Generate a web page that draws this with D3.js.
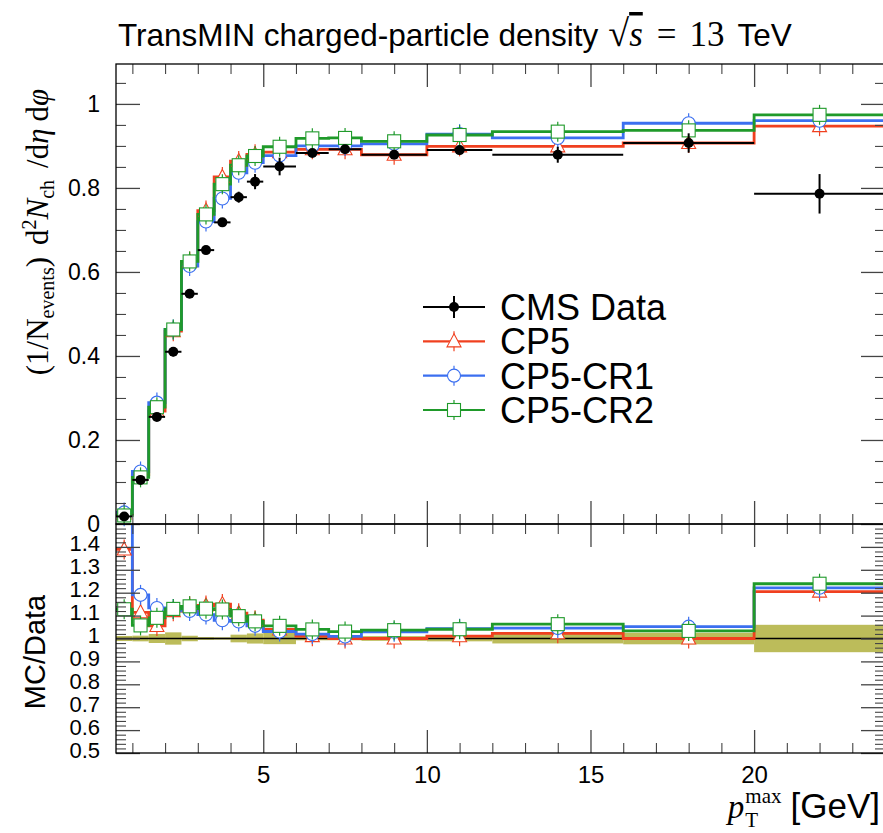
<!DOCTYPE html>
<html>
<head>
<meta charset="utf-8">
<script src="https://cdn.jsdelivr.net/npm/d3@7"></script>
<style>
  body { margin: 0; background: #fff; }
  svg { display: block; }
  .tick text { font-family: "Liberation Sans", Arial, sans-serif; fill: #000; }
</style>
</head>
<body>
<svg id="chart" width="883" height="833"></svg>
<script>
// bins (GeV) and values
const binEdges = [0.5, 1, 1.5, 2, 2.5, 3, 3.5, 4, 4.5, 5, 6, 7, 8, 10, 12, 16, 20, 24];
const cmsData  = [0.018, 0.105, 0.255, 0.410, 0.548, 0.652, 0.718, 0.778, 0.815, 0.851, 0.883, 0.892, 0.879, 0.890, 0.879, 0.907, 0.786];
const cmsErr   = [0.0002, 0.0013, 0.005, 0.011, 0.0066, 0.004, 0.0036, 0.013, 0.018, 0.021, 0.007, 0.007, 0.009, 0.011, 0.019, 0.023, 0.047];
const cp5      = [0.025, 0.117, 0.269, 0.459, 0.625, 0.746, 0.826, 0.864, 0.880, 0.885, 0.892, 0.892, 0.879, 0.899, 0.899, 0.907, 0.947];
const cp5cr1   = [0.0276, 0.125, 0.289, 0.463, 0.614, 0.720, 0.775, 0.836, 0.860, 0.877, 0.900, 0.900, 0.905, 0.928, 0.919, 0.954, 0.960];
const cp5cr2   = [0.0203, 0.111, 0.278, 0.463, 0.625, 0.737, 0.809, 0.854, 0.876, 0.898, 0.918, 0.919, 0.911, 0.926, 0.934, 0.937, 0.974];

const mainTicks = [0, 0.2, 0.4, 0.6, 0.8, 1];
const ratioTicks = [0.5, 0.6, 0.7, 0.8, 0.9, 1, 1.1, 1.2, 1.3, 1.4];
const xTicks = [5, 10, 15, 20];

const mcSeries = [
  {name: "CP5",     vals: cp5,    color: "#f0401f", marker: "triangle"},
  {name: "CP5-CR1", vals: cp5cr1, color: "#3b6ff0", marker: "circle"},
  {name: "CP5-CR2", vals: cp5cr2, color: "#1f9a2a", marker: "square"}
];

// layout
const L = 116, R = 885, T = 64, MB = 524, RB = 753;
const sans = '"Liberation Sans", Arial, sans-serif';
const serif = '"Liberation Serif", "Times New Roman", serif';

const svg = d3.select("#chart");
const x = d3.scaleLinear().domain([0.5, 24]).range([L, R]);
const y = d3.scaleLinear().domain([0, 1.095]).range([MB, T]);
const yr = d3.scaleLinear().domain([0.5, 1.5]).range([RB, MB]);

const bins = cmsData.map((v, i) => ({lo: binEdges[i], hi: binEdges[i + 1], mid: (binEdges[i] + binEdges[i + 1]) / 2, v: v, e: cmsErr[i]}));

const defs = svg.append("defs");
defs.append("clipPath").attr("id", "clipMain").append("rect").attr("x", L).attr("y", T).attr("width", R - L).attr("height", MB - T);
defs.append("clipPath").attr("id", "clipRatio").append("rect").attr("x", L).attr("y", MB).attr("width", R - L).attr("height", RB - MB);

function stepPath(vals, ys) {
  const pts = vals.map((v, i) => [binEdges[i], v]);
  pts.push([binEdges[binEdges.length - 1], vals[vals.length - 1]]);
  return d3.line().x(d => x(d[0])).y(d => ys(d[1])).curve(d3.curveStepAfter)(pts);
}

function drawMarker(g, type, cx, cy, color) {
  g.append("line").attr("x1", cx).attr("x2", cx).attr("y1", cy - 10).attr("y2", cy + 10)
    .attr("stroke", color).attr("stroke-width", 1.2);
  if (type === "circle") {
    g.append("circle").attr("cx", cx).attr("cy", cy).attr("r", 6.5)
      .attr("fill", "#fff").attr("stroke", color).attr("stroke-width", 1.1);
  } else if (type === "square") {
    g.append("rect").attr("x", cx - 6.5).attr("y", cy - 6.5).attr("width", 13).attr("height", 13)
      .attr("fill", "#fff").attr("stroke", color).attr("stroke-width", 1.1);
  } else {
    g.append("path").attr("d", `M${cx},${cy - 7.5}L${cx + 7},${cy + 5.5}L${cx - 7},${cy + 5.5}Z`)
      .attr("fill", "#fff").attr("stroke", color).attr("stroke-width", 1.1);
  }
}

// ---------- main panel ----------
const gMain = svg.append("g").attr("clip-path", "url(#clipMain)");

// data error bars
const gData = gMain.append("g");
bins.forEach(b => {
  gData.append("line").attr("x1", x(b.lo)).attr("x2", x(b.hi)).attr("y1", y(b.v)).attr("y2", y(b.v))
    .attr("stroke", "#000").attr("stroke-width", 2);
  gData.append("line").attr("x1", x(b.mid)).attr("x2", x(b.mid)).attr("y1", y(b.v - b.e)).attr("y2", y(b.v + b.e))
    .attr("stroke", "#000").attr("stroke-width", 2);
});

mcSeries.forEach(s => {
  gMain.append("path").attr("d", stepPath(s.vals, y)).attr("fill", "none")
    .attr("stroke", s.color).attr("stroke-width", 2.8);
});
mcSeries.forEach(s => {
  const gm = gMain.append("g");
  s.vals.forEach((v, i) => drawMarker(gm, s.marker, x(bins[i].mid), y(v), s.color));
});
bins.forEach(b => {
  gData.append("circle").attr("cx", x(b.mid)).attr("cy", y(b.v)).attr("r", 5).attr("fill", "#000");
});
gMain.node().appendChild(gData.node());

// ---------- ratio panel ----------
const gRatio = svg.append("g").attr("clip-path", "url(#clipRatio)");
bins.forEach(b => {
  gRatio.append("rect").attr("x", x(b.lo)).attr("width", x(b.hi) - x(b.lo))
    .attr("y", yr(1 + b.e / b.v)).attr("height", yr(1 - b.e / b.v) - yr(1 + b.e / b.v))
    .attr("fill", "#bcbc5a");
});
gRatio.append("line").attr("x1", L).attr("x2", R).attr("y1", yr(1)).attr("y2", yr(1))
  .attr("stroke", "#000").attr("stroke-width", 1.5);
mcSeries.forEach(s => {
  const r = s.vals.map((v, i) => v / cmsData[i]);
  gRatio.append("path").attr("d", stepPath(r, yr)).attr("fill", "none")
    .attr("stroke", s.color).attr("stroke-width", 2.8);
});
mcSeries.forEach(s => {
  const gm = gRatio.append("g");
  s.vals.forEach((v, i) => drawMarker(gm, s.marker, x(bins[i].mid), yr(v / cmsData[i]), s.color));
});

// ---------- axes (ticks inside the frame) ----------
function ticksY(scale, major, minor, fontSize, shift) {
  const gl = svg.append("g").attr("transform", `translate(${L},0)`)
    .call(d3.axisLeft(scale).tickValues(major).tickSize(-24).tickPadding(16).tickFormat(d3.format("~g")));
  gl.select(".domain").remove();
  gl.selectAll(".tick line").attr("stroke", "#444").attr("stroke-width", 1.3);
  gl.selectAll(".tick text").attr("font-size", fontSize).attr("y", shift);
  const gm = svg.append("g").attr("transform", `translate(${L},0)`)
    .call(d3.axisLeft(scale).tickValues(minor).tickSize(-10).tickFormat(""));
  gm.select(".domain").remove();
  gm.selectAll(".tick line").attr("stroke", "#444").attr("stroke-width", 1.1);
  const gr = svg.append("g").attr("transform", `translate(${R},0)`)
    .call(d3.axisRight(scale).tickValues(major).tickSize(-24).tickFormat(""));
  gr.select(".domain").remove();
  gr.selectAll(".tick line").attr("stroke", "#444").attr("stroke-width", 1.3);
  const grm = svg.append("g").attr("transform", `translate(${R},0)`)
    .call(d3.axisRight(scale).tickValues(minor).tickSize(-10).tickFormat(""));
  grm.select(".domain").remove();
  grm.selectAll(".tick line").attr("stroke", "#444").attr("stroke-width", 1.1);
}
function ticksX(yPos, dir, labels) {
  const maj = d3.range(5, 24, 5), min = d3.range(1, 24, 1).filter(v => v % 5 !== 0);
  const axisFn = dir === "up" ? d3.axisBottom : d3.axisTop;
  const g1 = svg.append("g").attr("transform", `translate(0,${yPos})`)
    .call(axisFn(x).tickValues(labels ? xTicks : maj).tickSize(-23).tickPadding(13).tickFormat(labels ? d3.format("d") : ""));
  g1.select(".domain").remove();
  g1.selectAll(".tick line").attr("stroke", "#444").attr("stroke-width", 1.3);
  g1.selectAll(".tick text").attr("font-size", 24);
  const g2 = svg.append("g").attr("transform", `translate(0,${yPos})`)
    .call(axisFn(x).tickValues(min).tickSize(-10).tickFormat(""));
  g2.select(".domain").remove();
  g2.selectAll(".tick line").attr("stroke", "#444").attr("stroke-width", 1.1);
}

ticksY(y, mainTicks, d3.range(0.05, 1.09, 0.05).filter(v => Math.abs(v * 5 - Math.round(v * 5)) > 1e-6), 23, 0);
ticksY(yr, ratioTicks, d3.range(0.52, 1.5, 0.02).filter(v => Math.abs(v * 10 - Math.round(v * 10)) > 1e-6), 22, -3);
ticksX(T, "down", false);
ticksX(MB, "up", false);
ticksX(MB, "down", false);
ticksX(RB, "up", true);

// frames
svg.append("rect").attr("x", L).attr("y", T).attr("width", R - L).attr("height", MB - T)
  .attr("fill", "none").attr("stroke", "#000").attr("stroke-width", 1.3);
svg.append("rect").attr("x", L).attr("y", MB).attr("width", R - L).attr("height", RB - MB)
  .attr("fill", "none").attr("stroke", "#000").attr("stroke-width", 1.3);

// ---------- legend ----------
const legendRows = [{name: "CMS Data", color: "#000", marker: "data"}].concat(mcSeries);
const legY = d3.scalePoint().domain(legendRows.map(d => d.name)).range([307, 410]);
legendRows.forEach(d => {
  const cy = legY(d.name);
  const gl = svg.append("g");
  gl.append("line").attr("x1", 423).attr("x2", 485).attr("y1", cy).attr("y2", cy)
    .attr("stroke", d.color).attr("stroke-width", 2.2);
  if (d.marker === "data") {
    gl.append("line").attr("x1", 454).attr("x2", 454).attr("y1", cy - 11).attr("y2", cy + 11)
      .attr("stroke", "#000").attr("stroke-width", 2);
    gl.append("circle").attr("cx", 454).attr("cy", cy).attr("r", 5).attr("fill", "#000");
  } else {
    drawMarker(gl, d.marker, 454, cy, d.color);
  }
  gl.append("text").attr("x", 500).attr("y", cy + 13).attr("font-family", sans).attr("font-size", 36)
    .text(d.name);
});

// ---------- texts ----------
const title = svg.append("text").attr("x", 118).attr("y", 46).attr("font-family", sans).attr("font-size", 31.5);
title.append("tspan").text("TransMIN charged-particle density");
title.append("tspan").attr("dx", 10).attr("font-family", serif).attr("font-size", 38).text("\u221A");
title.append("tspan").attr("font-family", serif).attr("font-size", 35).attr("font-style", "italic").attr("text-decoration", "overline").text("s");
title.append("tspan").attr("dx", 14).attr("font-family", serif).attr("font-size", 35).text("=");
title.append("tspan").attr("dx", 13).attr("font-family", serif).attr("font-size", 35).text("13");
title.append("tspan").attr("dx", 13).text("TeV");

const yl = svg.append("text").attr("transform", "translate(48,232) rotate(-90)")
  .attr("text-anchor", "middle").attr("font-family", serif).attr("font-size", 31);
yl.append("tspan").text("(1/N");
yl.append("tspan").attr("font-size", 20).attr("dy", 6).text("events");
yl.append("tspan").attr("dy", -6).text(")");
yl.append("tspan").attr("dx", 12).text("d");
yl.append("tspan").attr("font-size", 20).attr("dy", -12).text("2");
yl.append("tspan").attr("dy", 12).attr("font-style", "italic").text("N");
yl.append("tspan").attr("font-size", 20).attr("dy", 6).text("ch");
yl.append("tspan").attr("dy", -6).attr("dx", 12).text("/d");
yl.append("tspan").attr("font-style", "italic").text("\u03B7");
yl.append("tspan").attr("dx", 7).text("d");
yl.append("tspan").attr("font-style", "italic").text("\u03C6");

svg.append("text").attr("transform", "translate(45,652) rotate(-90)").attr("text-anchor", "middle")
  .attr("font-family", sans).attr("font-size", 29).text("MC/Data");

// x axis label, right aligned
const gev = svg.append("text").attr("x", 880).attr("y", 818).attr("text-anchor", "end")
  .attr("font-family", sans).attr("font-size", 35).text("[GeV]");
const gevW = gev.node().getComputedTextLength();
const supX = 880 - gevW - 9;
const sup = svg.append("text").attr("x", supX).attr("y", 803).attr("text-anchor", "end")
  .attr("font-family", serif).attr("font-size", 21).text("max");
const supW = sup.node().getComputedTextLength();
svg.append("text").attr("x", supX - supW).attr("y", 827).attr("font-family", serif).attr("font-size", 21).text("T");
svg.append("text").attr("x", supX - supW - 1).attr("y", 818).attr("text-anchor", "end")
  .attr("font-family", serif).attr("font-style", "italic").attr("font-size", 33).text("p");
</script>
</body>
</html>
